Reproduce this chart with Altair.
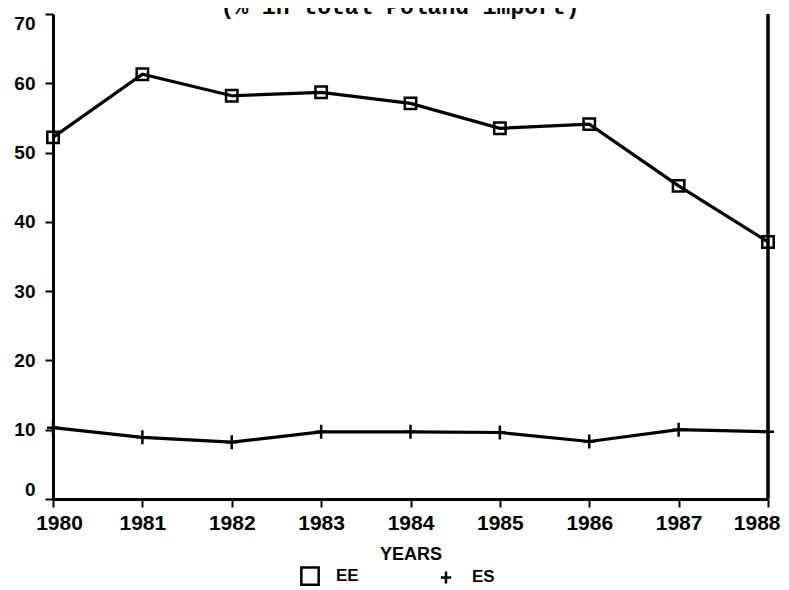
import altair as alt
import pandas as pd

years = [1980, 1981, 1982, 1983, 1984, 1985, 1986, 1987, 1988]
ee = [52.2, 61.3, 58.2, 58.7, 57.1, 53.5, 54.1, 45.2, 37.1]
es = [10.3, 8.9, 8.2, 9.7, 9.7, 9.6, 8.3, 10.0, 9.7]
series = ["EE", "ES"]
title_text = "(% in total Poland import)"

rows = []
for y, a, b in zip(years, ee, es):
    rows.append({"year": y, "value": a, "series": "EE"})
    rows.append({"year": y, "value": b, "series": "ES"})
df = pd.DataFrame(rows)

FONT = "Liberation Sans"
PLUS = "M0,-0.7V0.7M-0.6,0H0.6"

x_enc = alt.X("year:Q", scale=alt.Scale(domain=[1980, 1988], nice=False, zero=False),
              axis=alt.Axis(values=years, format="d", title="YEARS", labelFontSize=21,
                            labelFontWeight="bold", labelFont=FONT, labelColor="black",
                            tickSize=8, tickWidth=2, tickColor="black", labelPadding=5,
                            domainWidth=3, domainColor="black", titleFont=FONT,
                            titleFontSize=18, titleFontWeight="bold", titleColor="black",
                            titlePadding=12, labelFlush=False, labelOverlap=False,
                            labelAlign={"condition": {"test": "datum.value == 1988", "value": "right"},
                                        "value": "center"},
                            labelOffset={"condition": [{"test": "datum.value == 1988", "value": 12},
                                                       {"test": "datum.value == 1980", "value": 6}],
                                         "value": 0}))
y_enc = alt.Y("value:Q", scale=alt.Scale(domain=[0, 70], nice=False),
              axis=alt.Axis(values=[0, 10, 20, 30, 40, 50, 60, 70], title=None,
                            labelFontSize=19, labelFontWeight="bold", labelFont=FONT,
                            labelColor="black", tickSize=8, tickWidth=2, tickColor="black",
                            labelPadding=10, domainWidth=3, domainColor="black",
                            labelFlush=True))

shape_scale = alt.Scale(domain=series, range=["square", PLUS])
legend = alt.Legend(title=None, orient="none", legendX=247, legendY=552, direction="horizontal",
                    symbolSize=300, symbolStrokeColor="black", symbolFillColor="transparent",
                    symbolStrokeWidth=2.5, labelFont=FONT, labelFontSize=17,
                    labelFontWeight="bold", labelColor="black", labelOffset=16,
                    columnPadding=76)

base = alt.Chart(df)
lines = base.mark_line(color="black", strokeWidth=3.2).encode(
    x=x_enc, y=y_enc, detail="series:N")
pts_ee = base.transform_filter(alt.datum.series == "EE").mark_point(
    filled=False, color="black", strokeWidth=2.5, size=130, opacity=1).encode(
    x="year:Q", y="value:Q", shape=alt.Shape("series:N", scale=shape_scale, legend=legend))
pts_es = base.transform_filter(alt.datum.series == "ES").mark_point(
    filled=False, color="black", strokeWidth=2.5, size=400, opacity=1).encode(
    x="year:Q", y="value:Q", shape=alt.Shape("series:N", scale=shape_scale, legend=legend))

right_rule = alt.Chart(pd.DataFrame({"x": [1988], "y0": [0], "y1": [70]})).mark_rule(
    color="black", strokeWidth=3.5).encode(x="x:Q", y="y0:Q", y2="y1:Q")

title = alt.Chart(pd.DataFrame({"t": [title_text]})).mark_text(
    font="Liberation Mono", fontSize=23, fontWeight="bold", color="black",
    baseline="alphabetic", align="center").encode(
    text="t:N", x=alt.value(347), y=alt.value(0))

chart = alt.layer(lines, pts_ee, pts_es, right_rule, title).properties(
    width=715, height=485,
    autosize=alt.AutoSizeParams(type="none"),
    padding={"left": 45, "top": 6, "right": 13, "bottom": 91},
    background="white",
).configure_view(stroke=None).configure_axis(grid=False)

chart.save("out.html", embed_options={"renderer": "svg", "actions": False})
